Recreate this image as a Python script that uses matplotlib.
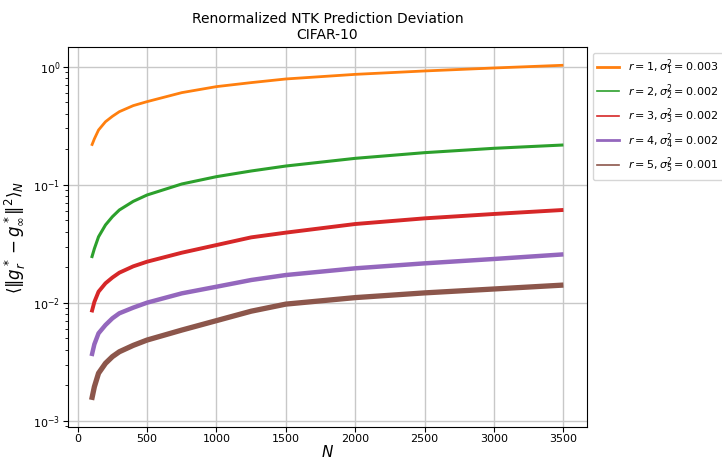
import matplotlib.pyplot as plt
from matplotlib.lines import Line2D

# values (N, deviation) per rank
N = [100, 120, 150, 200, 250, 300, 400, 500, 750, 1000, 1250, 1500, 2000, 2500, 3000, 3500]
dev_r1 = [0.214, 0.245, 0.291, 0.342, 0.380, 0.416, 0.468, 0.506, 0.603, 0.678, 0.733, 0.787, 0.861, 0.920, 0.975, 1.028]
dev_r2 = [0.0240, 0.0288, 0.0363, 0.0457, 0.0537, 0.0612, 0.0724, 0.0820, 0.1016, 0.1172, 0.1309, 0.1442, 0.1675, 0.1871, 0.2037, 0.2173]
dev_r3 = [0.00832, 0.0102, 0.01245, 0.01466, 0.0164, 0.01803, 0.0204, 0.02234, 0.02661, 0.03090, 0.03589, 0.03936, 0.04656, 0.05200, 0.05662, 0.06124]
dev_r4 = [0.00355, 0.00447, 0.00553, 0.00650, 0.00741, 0.00817, 0.00912, 0.01005, 0.01205, 0.01371, 0.01563, 0.01722, 0.01963, 0.02163, 0.02355, 0.02576]
dev_r5 = [0.00151, 0.00195, 0.00254, 0.00308, 0.00351, 0.00386, 0.00437, 0.00485, 0.00589, 0.00708, 0.00851, 0.00977, 0.01109, 0.01216, 0.01312, 0.01416]

labels = [r'$r=1, \sigma_1^2=0.003$',
          r'$r=2, \sigma_2^2=0.002$',
          r'$r=3, \sigma_3^2=0.002$',
          r'$r=4, \sigma_4^2=0.002$',
          r'$r=5, \sigma_5^2=0.001$']
colors = ['tab:orange', 'tab:green', 'tab:red', 'tab:purple', 'tab:brown']
widths = [2.0, 2.2, 2.8, 3.2, 3.8]
legend_widths = [2.0, 1.2, 1.2, 2.0, 1.2]

fig = plt.figure(figsize=(7.22, 4.62), dpi=100)
ax = fig.add_axes([0.0942, 0.0764, 0.7188, 0.8212])

for ys, c, w in zip([dev_r1, dev_r2, dev_r3, dev_r4, dev_r5], colors, widths):
    ax.plot(N, ys, color=c, lw=w, solid_capstyle='butt')

ax.set_yscale('log')
ax.set_xlim(-70, 3670)
ax.set_ylim(10 ** -3.048, 10 ** 0.164)
ax.set_xticks(range(0, 3501, 500))
ax.grid(True, which='major', color='#c8c8c8', lw=1.0)
ax.tick_params(labelsize=8, pad=2)

ax.set_title('Renormalized NTK Prediction Deviation\nCIFAR-10', fontsize=10)
ax.set_xlabel(r'$N$', fontsize=11, labelpad=0)
ax.set_ylabel(r'$\langle \| g^*_r - g^*_\infty \|^2 \rangle_N$', fontsize=12)

handles = [Line2D([0], [0], color=c, lw=w) for c, w in zip(colors, legend_widths)]
ax.legend(handles, labels, loc='upper left', bbox_to_anchor=(1.0, 1.0),
          fontsize=8, labelspacing=0.45)

fig.savefig('out.png', dpi=100)
